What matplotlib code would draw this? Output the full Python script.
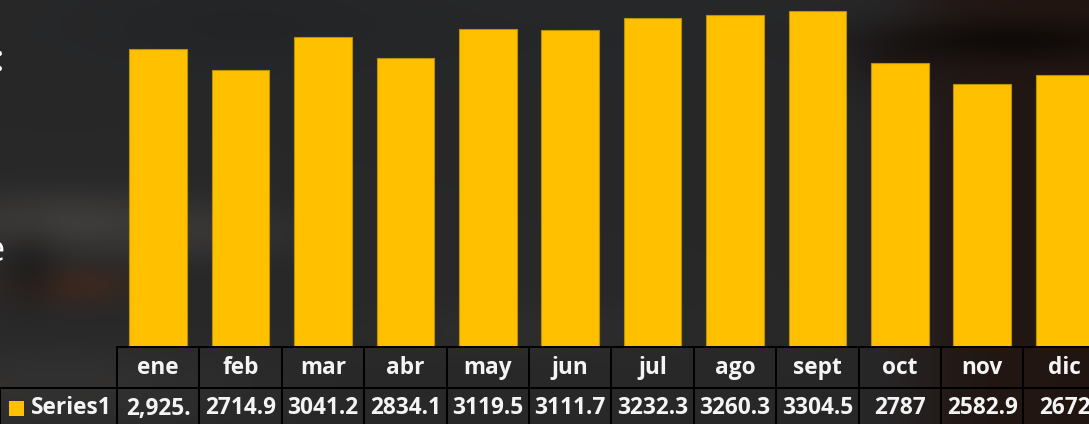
import numpy as np
import matplotlib
matplotlib.use("Agg")
import matplotlib.pyplot as plt
from matplotlib.patches import Rectangle

# monthly values (Series1)
months = ["ene", "feb", "mar", "abr", "may", "jun", "jul", "ago", "sept", "oct", "nov", "dic"]
values = [2925.0, 2714.9, 3041.2, 2834.1, 3119.5, 3111.7, 3232.3, 3260.3, 3304.5, 2787.0, 2582.9, 2672.0]
value_labels = ["2,925.", "2714.9", "3041.2", "2834.1", "3119.5", "3111.7",
                "3232.3", "3260.3", "3304.5", "2787", "2582.9", "2672"]
series_name = "Series1"

W, H = 1089, 424
BAR_COLOR = "#FFC000"
EDGE_COLOR = "#B8900A"
TEXT_COLOR = "#F4F4F4"
FONT = ["Open Sans", "DejaVu Sans"]

# table geometry in pixels
TAB_LEFT = 117.0
CELL_W = 82.4
TAB_TOP = 347.0
ROW1_BOT = 388.0


def make_backdrop():
    yy, xx = np.mgrid[0:H, 0:W].astype(float)
    img = np.ones((H, W, 3)) * np.array([40, 40, 41], float)

    def blob(cx, cy, sx, sy, color, strength):
        nonlocal img
        g = np.exp(-0.5 * ((xx - cx) / sx) ** 2 - 0.5 * ((yy - cy) / sy) ** 2)[..., None] * strength
        img = img * (1 - g) + np.array(color, float) * g

    # dark blue-grey patches up top
    blob(250, 25, 120, 30, (33, 35, 37), 0.7)
    blob(600, 40, 200, 40, (36, 38, 40), 0.5)
    # brownish dark area on the right
    right = (1.0 / (1.0 + np.exp(-(xx - 925) / 22)))[..., None] * 0.95
    img = img * (1 - right) + np.array([33, 21, 17], float) * right
    blob(1010, 40, 90, 14, (12, 8, 6), 0.8)
    blob(900, 60, 40, 25, (20, 14, 11), 0.5)
    # lighter blurred band and warm spot lower left
    blob(70, 222, 90, 22, (68, 65, 62), 0.8)
    blob(210, 232, 60, 18, (62, 60, 58), 0.6)
    blob(75, 285, 45, 14, (72, 40, 24), 0.6)
    blob(30, 270, 20, 25, (22, 22, 22), 0.5)
    blob(60, 385, 130, 30, (60, 58, 56), 0.5)
    blob(520, 330, 120, 20, (55, 54, 52), 0.35)
    return np.clip(img, 0, 255) / 255.0


fig = plt.figure(figsize=(W / 100, H / 100), dpi=100)

# photo-like backdrop
ax_bg = fig.add_axes([0, 0, 1, 1], zorder=0)
ax_bg.imshow(make_backdrop(), aspect="auto", extent=[0, W, H, 0], interpolation="bilinear")
ax_bg.set_axis_off()

# bar axes: baseline sits on the table top, columns line up with table cells
n = len(months)
ax = fig.add_axes([TAB_LEFT / W, (H - TAB_TOP + 1) / H, n * CELL_W / W, (TAB_TOP - 1) / H], zorder=1)
ax.patch.set_alpha(0)
x = np.arange(n)
ax.bar(x, values, width=0.70, color=BAR_COLOR, edgecolor=EDGE_COLOR, linewidth=0.8)
ax.set_xlim(-0.5, n - 0.5)
ax.set_ylim(0, (TAB_TOP - 1) / 0.1015)
ax.set_axis_off()

# data table drawn in pixel coordinates
ax_t = fig.add_axes([0, 0, 1, 1], zorder=2)
ax_t.patch.set_alpha(0)
ax_t.set_xlim(0, W)
ax_t.set_ylim(H, 0)
ax_t.set_axis_off()

lw = 1.4
right_edge = TAB_LEFT + n * CELL_W
ax_t.plot([TAB_LEFT, right_edge], [TAB_TOP, TAB_TOP], color="black", lw=lw)
ax_t.plot([0, right_edge], [ROW1_BOT, ROW1_BOT], color="black", lw=lw)
ax_t.plot([0, 0], [ROW1_BOT, H + 5], color="black", lw=lw)
for i in range(n + 1):
    xe = TAB_LEFT + i * CELL_W
    ax_t.plot([xe, xe], [TAB_TOP, H + 5], color="black", lw=lw)

for i, (m, lab) in enumerate(zip(months, value_labels)):
    cx = TAB_LEFT + (i + 0.5) * CELL_W
    ax_t.text(cx, 368, m, ha="center", va="center", color=TEXT_COLOR,
              fontsize=16.3, fontweight="bold", family=FONT)
    ax_t.text(cx, 408.5, lab, ha="center", va="center", color=TEXT_COLOR,
              fontsize=16.3, fontweight="bold", family=FONT, clip_on=False)

# legend key in the row header
ax_t.add_patch(Rectangle((9, 401), 15, 15, facecolor=BAR_COLOR, edgecolor="none"))
ax_t.text(31, 408.5, series_name, ha="left", va="center", color=TEXT_COLOR,
          fontsize=16.3, fontweight="bold", family=FONT)

# slide text running off the left edge
ax_t.text(4, 62, ":", ha="right", va="center", color="white", fontsize=26, family=FONT)
ax_t.text(5, 252, "e", ha="right", va="center", color="white", fontsize=26, family=FONT)

fig.savefig("out.png", dpi=100)
